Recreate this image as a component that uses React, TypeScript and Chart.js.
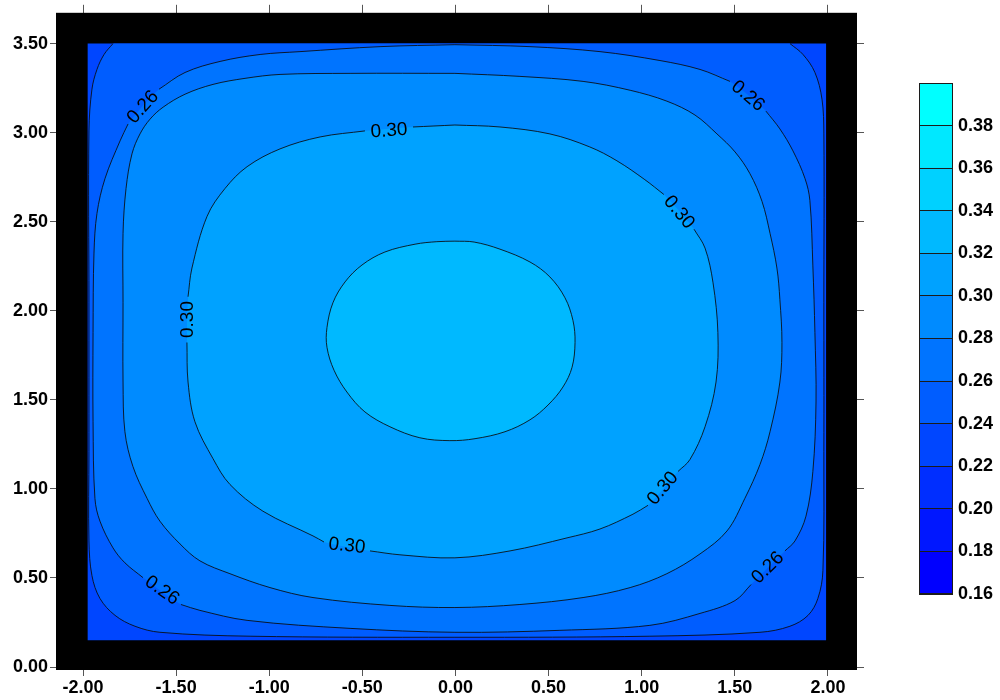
import React, { useEffect, useRef } from 'react';
import { Chart, registerables } from 'chart.js';

Chart.register(...registerables);

// ---------- axes ----------
const X_MIN = -2.145;
const X_MAX = 2.156;
const Y_MIN = -0.0167;
const Y_MAX = 3.673;
const xTicks = [-2, -1.5, -1, -0.5, 0, 0.5, 1, 1.5, 2];
const yTicks = [0, 0.5, 1, 1.5, 2, 2.5, 3, 3.5];

// ---------- colour scale ----------
const levels = [0.16, 0.18, 0.2, 0.22, 0.24, 0.26, 0.28, 0.3, 0.32, 0.34, 0.36, 0.38, 0.4];
const bandColors = [
  '#0000FF', '#0017FF', '#002EFF', '#0046FF', '#005DFF', '#0074FF',
  '#008BFF', '#00A2FF', '#00B9FF', '#00D1FF', '#00E8FF', '#00FFFF',
];

// ---------- gridded region ----------
const dataRegion = [[-1.975, 0.15], [1.99, 0.15], [1.99, 3.5], [-1.975, 3.5], [-1.975, 0.15]];

// ---------- contour lines (x, y); null = break for a label ----------
const contour024 = [
  [-1.839, 3.5], [-1.887, 3.439], [-1.925, 3.355], [-1.952, 3.244], [-1.968, 3.01],
  [-1.968, 2.045], [-1.968, 1.209], [-1.968, 0.708], [-1.952, 0.513], [-1.909, 0.385],
  [-1.828, 0.29], [-1.721, 0.229], [-1.587, 0.195], [-1.103, 0.173], [-0.003, 0.167],
  [1.044, 0.173], [1.635, 0.195], [1.796, 0.229], [1.893, 0.29], [1.946, 0.385],
  [1.973, 0.541], [1.978, 1.209], [1.978, 2.045], [1.978, 2.993], [1.968, 3.188],
  [1.93, 3.338], [1.866, 3.439], [1.796, 3.5],
];

const contour026 = [
  [-0.003, 3.494], [0.4, 3.483], [0.776, 3.455], [1.098, 3.405], [1.313, 3.355], [1.474, 3.288],
  null,
  [1.667, 3.121], [1.742, 3.021], [1.812, 2.898], [1.877, 2.742], [1.903, 2.619], [1.919, 2.252],
  [1.93, 1.878], [1.936, 1.488], [1.919, 1.098], [1.882, 0.847], [1.823, 0.708], [1.769, 0.652],
  null,
  [1.587, 0.463], [1.501, 0.373], [1.313, 0.301], [1.044, 0.234], [0.561, 0.206], [-0.003, 0.195],
  [-0.566, 0.217], [-1.119, 0.262], [-1.372, 0.318], [-1.474, 0.351],
  null,
  [-1.678, 0.502], [-1.775, 0.585], [-1.839, 0.669], [-1.909, 0.819], [-1.936, 0.947],
  [-1.946, 1.377], [-1.946, 1.878], [-1.941, 2.324], [-1.925, 2.547], [-1.882, 2.742],
  [-1.801, 2.954], [-1.758, 3.049],
  null,
  [-1.592, 3.244], [-1.452, 3.338], [-1.264, 3.4], [-1.049, 3.439], [-0.835, 3.455],
  [-0.405, 3.483], [-0.003, 3.494],
];

const contour028 = [
  [-0.003, 3.333], [0.346, 3.316], [0.685, 3.288], [0.938, 3.238], [1.135, 3.177], [1.286, 3.099],
  [1.404, 2.993], [1.501, 2.892], [1.581, 2.77], [1.646, 2.614], [1.689, 2.435], [1.726, 2.24],
  [1.742, 2.062], [1.753, 1.822], [1.742, 1.6], [1.689, 1.321], [1.635, 1.137], [1.554, 0.947],
  [1.458, 0.764], [1.313, 0.635], [1.135, 0.524], [0.938, 0.446], [0.685, 0.39], [0.346, 0.351],
  [-0.003, 0.334], [-0.352, 0.346], [-0.765, 0.39], [-0.996, 0.446], [-1.211, 0.524],
  [-1.372, 0.596], [-1.479, 0.691], [-1.587, 0.819], [-1.656, 0.947], [-1.732, 1.126],
  [-1.775, 1.321], [-1.785, 1.6], [-1.785, 2.045], [-1.785, 2.435], [-1.769, 2.686],
  [-1.737, 2.881], [-1.694, 2.993], [-1.64, 3.076], [-1.57, 3.143], [-1.452, 3.216],
  [-1.302, 3.271], [-1.13, 3.305], [-0.942, 3.327], [-0.566, 3.333], [-0.003, 3.333],
];

const contour030 = [
  [-0.003, 3.043], [0.239, 3.032], [0.507, 2.993], [0.721, 2.92], [0.867, 2.842], [1.017, 2.736],
  [1.119, 2.653],
  null,
  [1.281, 2.458], [1.34, 2.352], [1.383, 2.157], [1.409, 1.878], [1.399, 1.6], [1.34, 1.349],
  [1.259, 1.165], [1.195, 1.098],
  null,
  [1.034, 0.908], [0.953, 0.858], [0.776, 0.775], [0.599, 0.725], [0.293, 0.652], [-0.003, 0.613],
  [-0.298, 0.63], [-0.459, 0.652],
  null,
  [-0.706, 0.702], [-0.765, 0.736], [-1.034, 0.875], [-1.211, 1.025], [-1.302, 1.17],
  [-1.399, 1.377], [-1.436, 1.6], [-1.442, 1.822],
  null,
  [-1.436, 2.079], [-1.415, 2.24], [-1.334, 2.53], [-1.238, 2.686], [-1.119, 2.809],
  [-0.942, 2.909], [-0.727, 2.976], [-0.486, 3.01],
  null,
  [-0.228, 3.032], [-0.003, 3.043],
];

const contour032 = [
  [-0.003, 2.391], [0.1, 2.386], [0.239, 2.346], [0.4, 2.274], [0.507, 2.19], [0.588, 2.073],
  [0.631, 1.945], [0.642, 1.822], [0.626, 1.683], [0.577, 1.572], [0.497, 1.471], [0.4, 1.388],
  [0.266, 1.321], [0.105, 1.282], [-0.03, 1.271], [-0.191, 1.287], [-0.352, 1.349],
  [-0.486, 1.432], [-0.583, 1.544], [-0.652, 1.666], [-0.69, 1.795], [-0.69, 1.906],
  [-0.658, 2.045], [-0.593, 2.162], [-0.502, 2.257], [-0.379, 2.33], [-0.217, 2.374],
  [-0.1, 2.388], [-0.003, 2.391],
];

// ---------- contour labels ----------
const labelTexts = ['0.26', '0.26', '0.26', '0.26', '0.30', '0.30', '0.30', '0.30', '0.30'];
const labelX = [-1.678, 1.57, -1.576, 1.678, -0.357, -1.436, 1.2, 1.114, -0.583];
const labelY = [3.143, 3.205, 0.429, 0.557, 3.01, 1.951, 2.553, 1.003, 0.68];
const labelAngles = [-48, 40, 35, -45, -4, -90, 50, -50, 6];

const TICK_FONT = { family: '"Liberation Sans", Arial, sans-serif', size: 18, weight: 'bold' as const };

const toPoints = (arr: any[]) => arr.map((p) => (p ? { x: p[0], y: p[1] } : { x: null, y: null }));
const solid = (arr: any[]) => arr.filter((p) => p !== null).map((p) => ({ x: p[0], y: p[1] }));

const fillSet = (arr: any[], color: string, order: number, tension = 0.35) => ({
  data: solid(arr),
  fill: 'shape',
  backgroundColor: color,
  borderColor: 'rgba(0,0,0,0)',
  borderWidth: 0,
  pointRadius: 0,
  tension,
  order,
});

const lineSet = (arr: any[]) => ({
  data: toPoints(arr),
  fill: false,
  borderColor: 'rgba(10,10,10,0.85)',
  borderWidth: 1,
  pointRadius: 0,
  tension: 0.35,
  order: 0,
});

const blackArea = {
  id: 'blackArea',
  beforeDatasetsDraw(chart: any) {
    const { ctx, chartArea: a } = chart;
    ctx.save();
    ctx.fillStyle = '#000';
    ctx.fillRect(a.left, a.top, a.right - a.left, a.bottom - a.top);
    ctx.restore();
  },
};

const contourLabels = {
  id: 'contourLabels',
  afterDatasetsDraw(chart: any) {
    const { ctx, scales } = chart;
    ctx.save();
    ctx.font = '19px "Liberation Sans", Arial, sans-serif';
    ctx.fillStyle = '#000';
    ctx.textAlign = 'center';
    ctx.textBaseline = 'middle';
    labelTexts.forEach((t, i) => {
      const px = scales.x.getPixelForValue(labelX[i]);
      const py = scales.y.getPixelForValue(labelY[i]);
      ctx.save();
      ctx.translate(px, py);
      ctx.rotate((labelAngles[i] * Math.PI) / 180);
      ctx.fillText(t, 0, 0);
      ctx.restore();
    });
    ctx.restore();
  },
};

const barOutline = {
  id: 'barOutline',
  afterDraw(chart: any) {
    const { ctx, chartArea: a } = chart;
    ctx.save();
    ctx.strokeStyle = '#1c1c1c';
    ctx.lineWidth = 1;
    ctx.strokeRect(Math.round(a.left) + 0.5, Math.round(a.top) + 0.5, Math.round(a.right - a.left) - 1, Math.round(a.bottom - a.top) - 1);
    ctx.restore();
  },
};

const setTicks = (vals: number[]) => (s: any) => {
  s.ticks = vals.map((v) => ({ value: v }));
};

export default function App() {
  const mainRef = useRef<HTMLCanvasElement>(null);
  const barRef = useRef<HTMLCanvasElement>(null);

  useEffect(() => {
    const main = new Chart(mainRef.current as HTMLCanvasElement, {
      type: 'line',
      data: {
        datasets: [
          lineSet(contour032),
          lineSet(contour030),
          lineSet(contour028),
          lineSet(contour026),
          lineSet(contour024),
          fillSet(contour032, bandColors[8], 1),
          fillSet(contour030, bandColors[7], 2),
          fillSet(contour028, bandColors[6], 3),
          fillSet(contour026, bandColors[5], 4),
          fillSet(contour024, bandColors[4], 5),
          fillSet(dataRegion, bandColors[3], 6, 0),
        ] as any,
      },
      options: {
        responsive: false,
        animation: false,
        devicePixelRatio: 1,
        events: [],
        layout: { padding: 0 },
        plugins: { legend: { display: false }, tooltip: { enabled: false } },
        scales: {
          x: {
            type: 'linear',
            position: 'bottom',
            min: X_MIN,
            max: X_MAX,
            afterBuildTicks: setTicks(xTicks),
            afterFit: (s: any) => { s.height = 30; },
            grid: { drawOnChartArea: false, drawTicks: true, tickLength: 6, color: '#555' },
            border: { display: false },
            ticks: {
              font: TICK_FONT,
              color: '#000',
              padding: 1,
              maxRotation: 0,
              autoSkip: false,
              callback: (v: any) => Number(v).toFixed(2),
            },
          },
          x2: {
            type: 'linear',
            position: 'top',
            axis: 'x',
            min: X_MIN,
            max: X_MAX,
            afterBuildTicks: setTicks(xTicks),
            afterFit: (s: any) => { s.height = 8; },
            grid: { drawOnChartArea: false, drawTicks: true, tickLength: 8, color: '#555' },
            border: { display: false },
            ticks: { display: false },
          },
          y: {
            type: 'linear',
            position: 'left',
            min: Y_MIN,
            max: Y_MAX,
            afterBuildTicks: setTicks(yTicks),
            afterFit: (s: any) => { s.width = 56; },
            grid: { drawOnChartArea: false, drawTicks: true, tickLength: 6, color: '#555' },
            border: { display: false },
            ticks: {
              font: TICK_FONT,
              color: '#000',
              padding: 2,
              autoSkip: false,
              callback: (v: any) => Number(v).toFixed(2),
            },
          },
          y2: {
            type: 'linear',
            position: 'right',
            axis: 'y',
            min: Y_MIN,
            max: Y_MAX,
            afterBuildTicks: setTicks(yTicks),
            afterFit: (s: any) => { s.width = 143; },
            grid: { drawOnChartArea: false, drawTicks: true, tickLength: 7, color: '#555' },
            border: { display: false },
            ticks: { display: false },
          },
        } as any,
      },
      plugins: [blackArea, contourLabels],
    });

    const bar = new Chart(barRef.current as HTMLCanvasElement, {
      type: 'bar',
      data: {
        labels: [''],
        datasets: bandColors.map((c, i) => ({
          data: [[levels[i], levels[i + 1]]],
          backgroundColor: c,
          borderWidth: 0,
          categoryPercentage: 1,
          barPercentage: 1,
          grouped: false,
        })) as any,
      },
      options: {
        responsive: false,
        animation: false,
        devicePixelRatio: 1,
        events: [],
        layout: { padding: { left: 19, top: 23, bottom: 26, right: 0 } },
        plugins: { legend: { display: false }, tooltip: { enabled: false } },
        scales: {
          x: { type: 'category', display: false, stacked: true },
          y: {
            type: 'linear',
            position: 'right',
            min: 0.16,
            max: 0.4,
            stacked: false,
            afterBuildTicks: setTicks(levels),
            afterFit: (s: any) => { s.width = 47; },
            grid: { display: true, drawOnChartArea: true, drawTicks: false, color: '#1c1c1c', lineWidth: 1, z: 1 },
            border: { display: false },
            ticks: {
              font: TICK_FONT,
              color: '#000',
              padding: 5,
              autoSkip: false,
              callback: (v: any) => (Number(v) > 0.399 ? '' : Number(v).toFixed(2)),
            },
          },
        } as any,
      },
      plugins: [barOutline],
    });

    return () => {
      main.destroy();
      bar.destroy();
    };
  }, []);

  return (
    <div style={{ position: 'fixed', left: 0, top: 0, width: 1000, height: 700, background: '#fff' }}>
      <canvas
        ref={mainRef}
        width={1000}
        height={700}
        style={{ position: 'absolute', left: 0, top: 0, width: 1000, height: 700 }}
      />
      <canvas
        ref={barRef}
        width={100}
        height={560}
        style={{ position: 'absolute', left: 900, top: 60, width: 100, height: 560 }}
      />
    </div>
  );
}
